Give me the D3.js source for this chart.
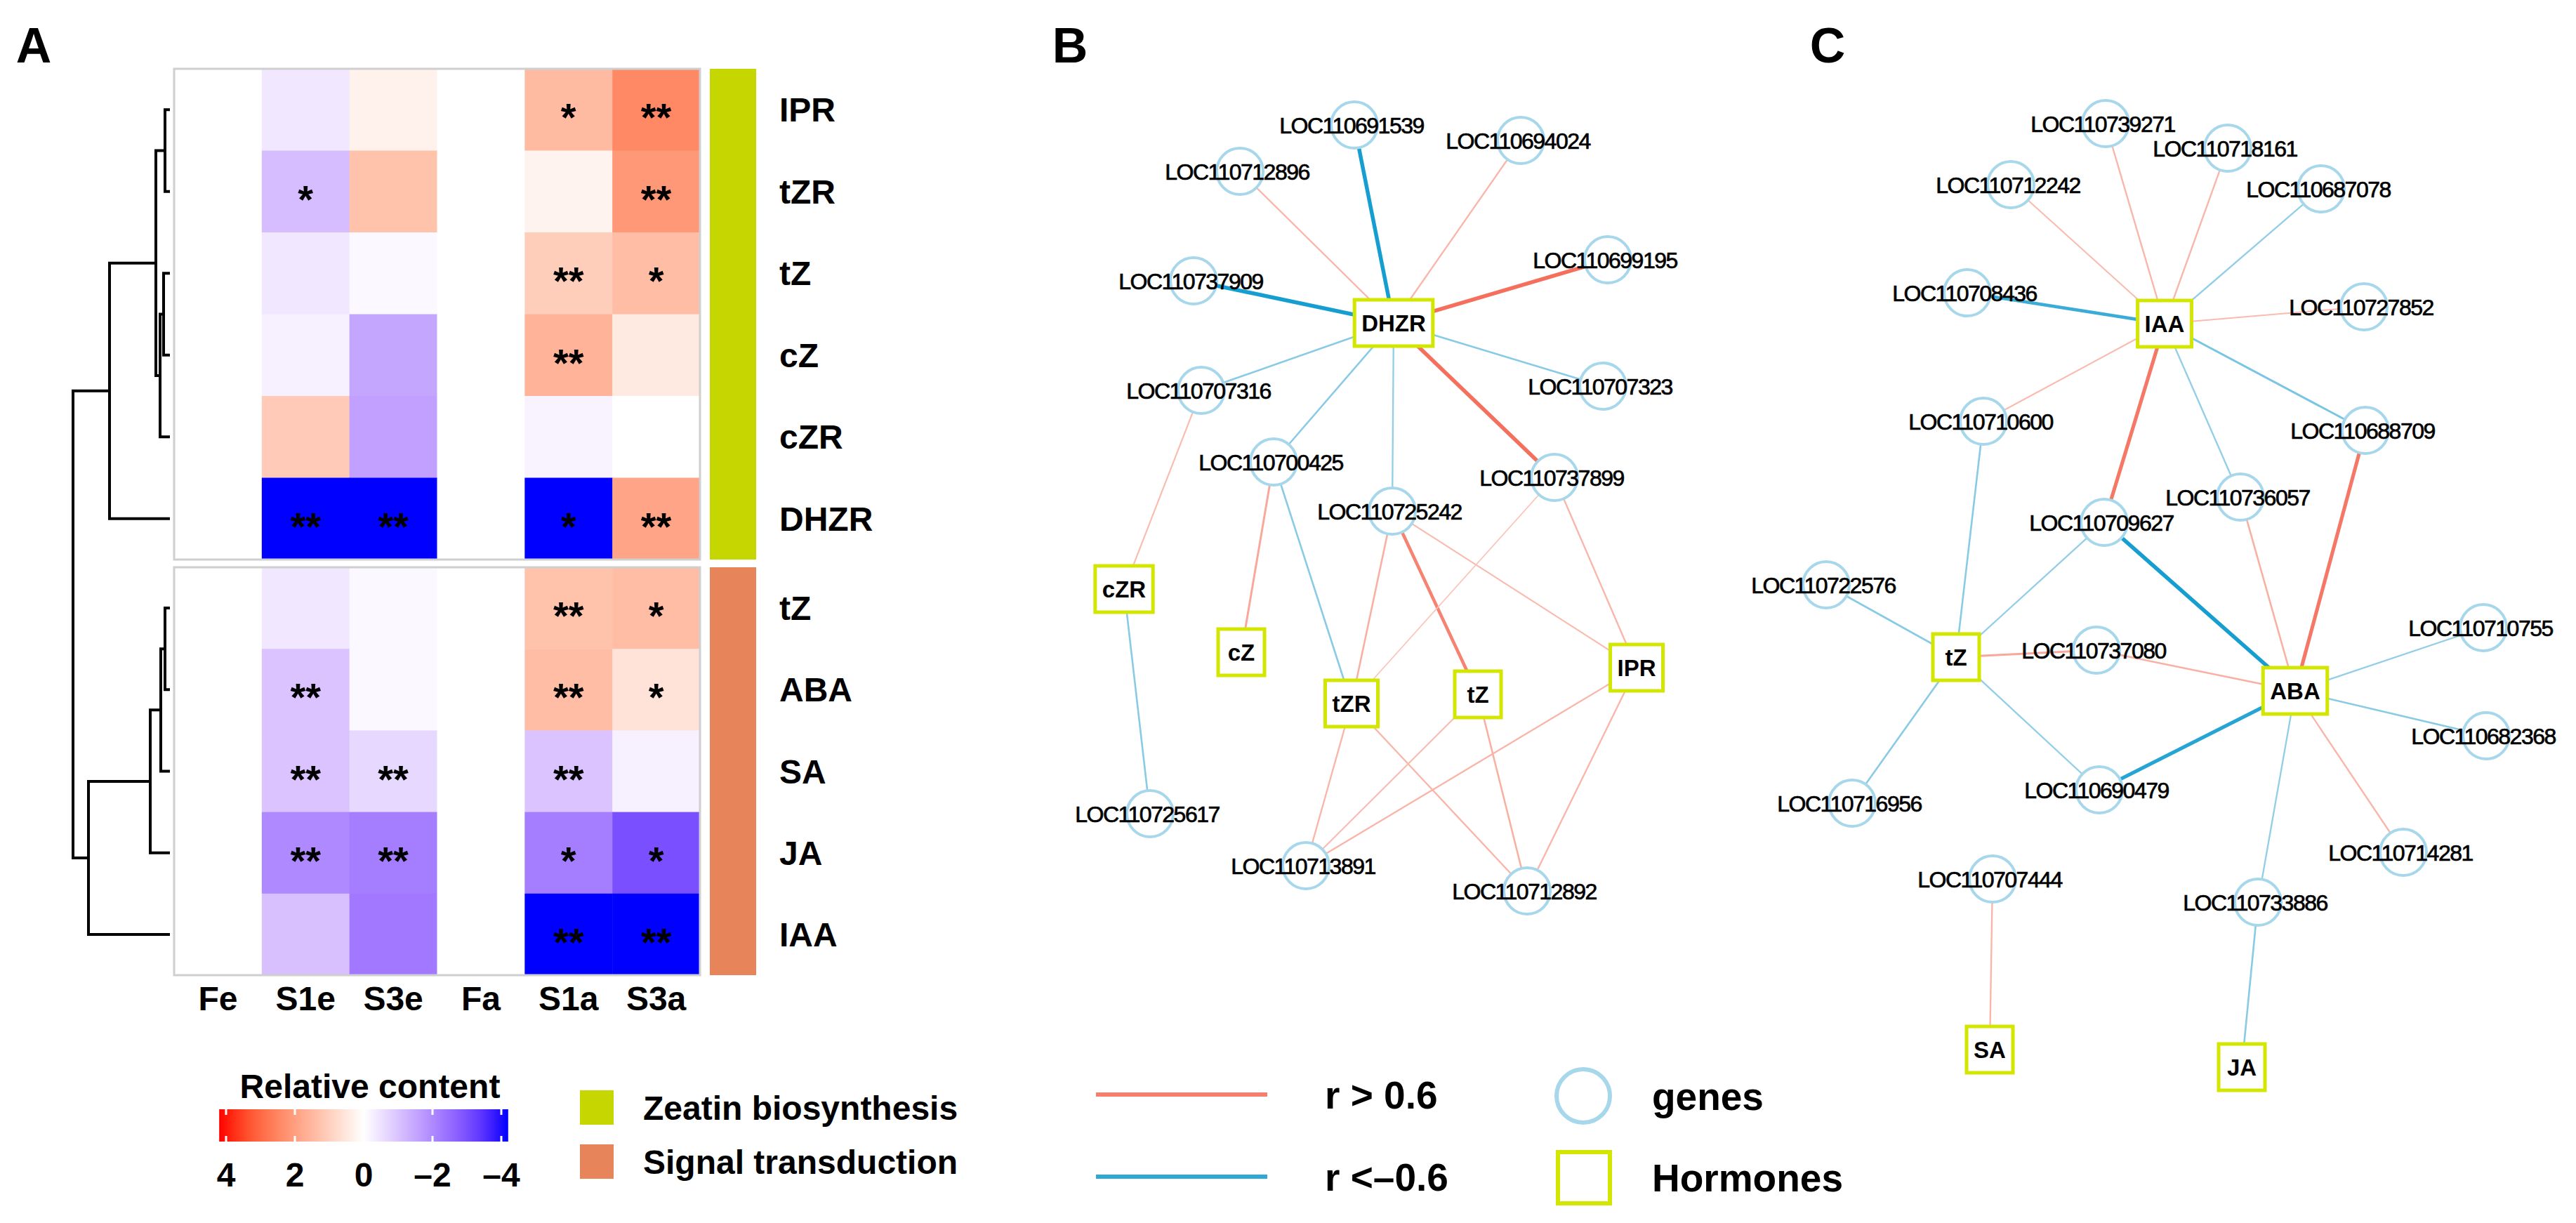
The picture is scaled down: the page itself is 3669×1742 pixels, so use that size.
<!DOCTYPE html>
<html>
<head>
<meta charset="utf-8">
<script src="https://cdn.jsdelivr.net/npm/d3@7"></script>
<style>
  body { margin: 0; background: #fff; }
  svg { display: block; font-family: "Liberation Sans", Arial, sans-serif; }
</style>
</head>
<body>
<div id="chart"></div>
<script>
const w = 3669;
const h = 1742;

// ---- panel A data ----
const cols = ['Fe', 'S1e', 'S3e', 'Fa', 'S1a', 'S3a'];
const rowsZeatin = ['IPR', 'tZR', 'tZ', 'cZ', 'cZR', 'DHZR'];
const rowsSignal = ['tZ', 'ABA', 'SA', 'JA', 'IAA'];

const valuesZeatin = [
  [0, -0.4, 0.3, 0, 1.45, 2.45],
  [0, -1.1, 1.3, 0, 0.25, 2.15],
  [0, -0.4, -0.1, 0, 1.05, 1.4],
  [0, -0.25, -1.5, 0, 1.6, 0.45],
  [0, 1.1, -1.6, 0, -0.2, 0],
  [0, -4, -4, 0, -4, 1.9]
];
const valuesSignal = [
  [0, -0.4, -0.1, 0, 1.3, 1.4],
  [0, -1.0, -0.1, 0, 1.4, 0.6],
  [0, -1.0, -0.65, 0, -1.0, -0.25],
  [0, -2.0, -2.2, 0, -2.2, -3.0],
  [0, -1.05, -2.3, 0, -4, -4]
];
const starsZeatin = [
  ['', '', '', '', '*', '**'],
  ['', '*', '', '', '', '**'],
  ['', '', '', '', '**', '*'],
  ['', '', '', '', '**', ''],
  ['', '', '', '', '', ''],
  ['', '**', '**', '', '*', '**']
];
const starsSignal = [
  ['', '', '', '', '**', '*'],
  ['', '**', '', '', '**', '*'],
  ['', '**', '**', '', '**', ''],
  ['', '**', '**', '', '*', '*'],
  ['', '', '', '', '**', '**']
];
// dendrogram merges: [left, right, height]; "mN" = result of merge N
const treeZeatin = [['IPR', 'tZR', 0.7], ['tZ', 'cZ', 0.9], ['m1', 'cZR', 1.4], ['m0', 'm2', 2.0], ['m3', 'DHZR', 8.6]];
const treeSignal = [['tZ', 'ABA', 0.7], ['m0', 'SA', 1.3], ['m1', 'JA', 2.8], ['m2', 'IAA', 11.6]];
const rootHeight = 13.8;
const colorTicks = [4, 2, 0, -2, -4];
const groups = [
  {label: 'Zeatin biosynthesis', color: '#c5d600'},
  {label: 'Signal transduction', color: '#e8845a'}
];

// ---- panel B data (layout units) ----
const nodesB = [
  ['LOC110691539', 'gene', 429, 78], ['LOC110694024', 'gene', 666, 100],
  ['LOC110712896', 'gene', 266, 144], ['LOC110699195', 'gene', 790, 270],
  ['LOC110737909', 'gene', 200, 300], ['DHZR', 'hormone', 485, 360],
  ['LOC110707316', 'gene', 211, 456], ['LOC110707323', 'gene', 783, 450],
  ['LOC110700425', 'gene', 314, 558], ['LOC110737899', 'gene', 714, 580],
  ['LOC110725242', 'gene', 483, 628], ['cZR', 'hormone', 101, 739],
  ['cZ', 'hormone', 268, 829], ['tZR', 'hormone', 425, 902],
  ['tZ', 'hormone', 605, 889], ['IPR', 'hormone', 831, 851],
  ['LOC110725617', 'gene', 138, 1059], ['LOC110713891', 'gene', 360, 1133],
  ['LOC110712892', 'gene', 675, 1169]
];
const edgesB = [
  ['DHZR', 'LOC110691539', -0.95], ['DHZR', 'LOC110694024', 0.7], ['DHZR', 'LOC110712896', 0.7],
  ['DHZR', 'LOC110699195', 0.95], ['DHZR', 'LOC110737909', -0.95], ['DHZR', 'LOC110707316', -0.72],
  ['DHZR', 'LOC110707323', -0.72], ['DHZR', 'LOC110700425', -0.72], ['DHZR', 'LOC110725242', -0.7],
  ['DHZR', 'LOC110737899', 0.95], ['LOC110707316', 'cZR', 0.68], ['cZR', 'LOC110725617', -0.72],
  ['LOC110700425', 'cZ', 0.75], ['LOC110700425', 'tZR', -0.72], ['LOC110725242', 'tZR', 0.72],
  ['LOC110725242', 'tZ', 0.88], ['LOC110725242', 'IPR', 0.68], ['LOC110737899', 'tZR', 0.65],
  ['LOC110737899', 'IPR', 0.7], ['tZR', 'LOC110713891', 0.7], ['tZR', 'LOC110712892', 0.7],
  ['tZ', 'LOC110713891', 0.68], ['tZ', 'LOC110712892', 0.72], ['IPR', 'LOC110713891', 0.7],
  ['IPR', 'LOC110712892', 0.7]
];

// ---- panel C data (layout units) ----
const nodesC = [
  ['LOC110739271', 'gene', 499, 76], ['LOC110718161', 'gene', 673, 111],
  ['LOC110712242', 'gene', 364, 163], ['LOC110687078', 'gene', 806, 169],
  ['LOC110708436', 'gene', 302, 317], ['IAA', 'hormone', 583, 361],
  ['LOC110727852', 'gene', 867, 337], ['LOC110710600', 'gene', 325, 500],
  ['LOC110688709', 'gene', 869, 513], ['LOC110736057', 'gene', 691, 608],
  ['LOC110709627', 'gene', 497, 644], ['LOC110722576', 'gene', 101, 733],
  ['tZ', 'hormone', 286, 836], ['LOC110737080', 'gene', 486, 826],
  ['ABA', 'hormone', 769, 884], ['LOC110710755', 'gene', 1037, 794],
  ['LOC110682368', 'gene', 1041, 948], ['LOC110716956', 'gene', 138, 1044],
  ['LOC110690479', 'gene', 490, 1025], ['LOC110714281', 'gene', 923, 1114],
  ['LOC110707444', 'gene', 338, 1152], ['LOC110733886', 'gene', 716, 1185],
  ['SA', 'hormone', 334, 1395], ['JA', 'hormone', 693, 1420]
];
const edgesC = [
  ['IAA', 'LOC110739271', 0.7], ['IAA', 'LOC110718161', 0.7], ['IAA', 'LOC110712242', 0.68],
  ['IAA', 'LOC110687078', -0.7], ['IAA', 'LOC110708436', -0.88], ['IAA', 'LOC110727852', 0.68],
  ['IAA', 'LOC110710600', 0.68], ['IAA', 'LOC110688709', -0.75], ['IAA', 'LOC110736057', -0.7],
  ['IAA', 'LOC110709627', 0.92], ['LOC110710600', 'tZ', -0.72], ['LOC110709627', 'tZ', -0.7],
  ['LOC110709627', 'ABA', -0.95], ['LOC110736057', 'ABA', 0.72], ['LOC110688709', 'ABA', 0.92],
  ['LOC110722576', 'tZ', -0.72], ['tZ', 'LOC110737080', 0.75], ['LOC110737080', 'ABA', 0.72],
  ['tZ', 'LOC110716956', -0.72], ['tZ', 'LOC110690479', -0.7], ['LOC110690479', 'ABA', -0.92],
  ['ABA', 'LOC110710755', -0.7], ['ABA', 'LOC110682368', -0.72], ['ABA', 'LOC110714281', 0.7],
  ['ABA', 'LOC110733886', -0.7], ['LOC110733886', 'JA', -0.72], ['LOC110707444', 'SA', 0.7]
];
const edgeLegend = [
  {label: 'r > 0.6', r: 0.9},
  {label: 'r <\u20130.6', r: -0.9}
];

const svg = d3.select('#chart')
  .append('svg')
  .attr('width', w)
  .attr('height', h)
  .style('background-color', 'white');

// panel letters
svg.selectAll('.panel-letter')
  .data([['A', 48], ['B', 1524], ['C', 2603]])
  .enter()
  .append('text')
  .attr('x', d => d[1])
  .attr('y', 89)
  .attr('text-anchor', 'middle')
  .attr('font-size', 70)
  .attr('font-weight', 'bold')
  .text(d => d[0]);

// ================= Panel A =================
const color = d3.scaleLinear()
  .domain([4, 0, -4])
  .range(['#ff0000', '#ffffff', '#0000ff'])
  .interpolate(d3.interpolateLab)
  .clamp(true);

const xCol = d3.scaleBand().domain(cols).range([248, 997]);
const yTop = d3.scaleBand().domain(rowsZeatin).range([98, 797]);
const yBot = d3.scaleBand().domain(rowsSignal).range([808, 1389]);
const xTree = d3.scaleLinear().domain([0, rootHeight]).range([242, 104]);

const gA = svg.append('g');

function drawBlock(rows, values, stars, yScale, barColor) {
  const cells = [];
  rows.forEach((r, i) => cols.forEach((c, j) => cells.push({r, c, v: values[i][j], s: stars[i][j]})));
  const g = gA.append('g');
  g.selectAll('rect.cell')
    .data(cells)
    .enter()
    .append('rect')
    .attr('x', d => xCol(d.c))
    .attr('y', d => yScale(d.r))
    .attr('width', xCol.bandwidth() + 0.5)
    .attr('height', yScale.bandwidth() + 0.5)
    .attr('fill', d => color(d.v));
  g.selectAll('text.star')
    .data(cells.filter(d => d.s))
    .enter()
    .append('text')
    .attr('x', d => xCol(d.c) + xCol.bandwidth() / 2)
    .attr('y', d => yScale(d.r) + yScale.bandwidth() / 2 + 30)
    .attr('text-anchor', 'middle')
    .attr('font-size', 56)
    .attr('font-weight', 'bold')
    .text(d => d.s);
  const [y0, y1] = yScale.range();
  g.append('rect')
    .attr('x', 248).attr('y', y0)
    .attr('width', 997 - 248).attr('height', y1 - y0)
    .attr('fill', 'none')
    .attr('stroke', '#cfcfcf')
    .attr('stroke-width', 3);
  g.append('rect')
    .attr('x', 1011).attr('y', y0)
    .attr('width', 66).attr('height', y1 - y0)
    .attr('fill', barColor);
  g.selectAll('text.row')
    .data(rows)
    .enter()
    .append('text')
    .attr('x', 1110)
    .attr('y', d => yScale(d) + yScale.bandwidth() / 2 + 17)
    .attr('font-size', 48)
    .attr('font-weight', 'bold')
    .text(d => d);
}

drawBlock(rowsZeatin, valuesZeatin, starsZeatin, yTop, groups[0].color);
drawBlock(rowsSignal, valuesSignal, starsSignal, yBot, groups[1].color);

// column labels
gA.selectAll('text.col')
  .data(cols)
  .enter()
  .append('text')
  .attr('x', d => xCol(d) + xCol.bandwidth() / 2)
  .attr('y', 1439)
  .attr('text-anchor', 'middle')
  .attr('font-size', 48)
  .attr('font-weight', 'bold')
  .text(d => d);

// dendrogram
function drawTree(tree, rows, yScale) {
  const pos = {};
  rows.forEach(r => pos[r] = {y: yScale(r) + yScale.bandwidth() / 2, h: 0});
  tree.forEach(([a, b, ht], i) => {
    const A = pos[a], B = pos[b], x = xTree(ht);
    gA.append('path')
      .attr('d', `M${xTree(A.h)},${A.y}H${x}V${B.y}H${xTree(B.h)}`)
      .attr('fill', 'none')
      .attr('stroke', 'black')
      .attr('stroke-width', 4);
    pos['m' + i] = {y: (A.y + B.y) / 2, h: ht};
  });
  return pos['m' + (tree.length - 1)];
}
const topRoot = drawTree(treeZeatin, rowsZeatin, yTop);
const botRoot = drawTree(treeSignal, rowsSignal, yBot);
gA.append('path')
  .attr('d', `M${xTree(topRoot.h)},${topRoot.y}H${xTree(rootHeight)}V${botRoot.y}H${xTree(botRoot.h)}`)
  .attr('fill', 'none')
  .attr('stroke', 'black')
  .attr('stroke-width', 4);

// colour bar legend
const cbX = d3.scaleLinear().domain([4, -4]).range([322, 714]);
const grad = svg.append('defs').append('linearGradient').attr('id', 'cb');
d3.range(0, 1.0001, 0.05).forEach(t => {
  grad.append('stop')
    .attr('offset', t)
    .attr('stop-color', color(4.2 - t * 8.4));
});
gA.append('rect')
  .attr('x', cbX(4.2)).attr('y', 1580)
  .attr('width', cbX(-4.2) - cbX(4.2)).attr('height', 46)
  .attr('fill', 'url(#cb)');
colorTicks.forEach(t => {
  [[1580, 1588], [1618, 1626]].forEach(([a, b]) => {
    gA.append('line')
      .attr('x1', cbX(t)).attr('x2', cbX(t))
      .attr('y1', a).attr('y2', b)
      .attr('stroke', 'white').attr('stroke-width', 3);
  });
});
gA.selectAll('text.cbt')
  .data(colorTicks)
  .enter()
  .append('text')
  .attr('x', d => cbX(d))
  .attr('y', 1690)
  .attr('text-anchor', 'middle')
  .attr('font-size', 48)
  .attr('font-weight', 'bold')
  .text(d => d < 0 ? '\u2013' + Math.abs(d) : d);
gA.append('text')
  .attr('x', 527).attr('y', 1564)
  .attr('text-anchor', 'middle')
  .attr('font-size', 48)
  .attr('font-weight', 'bold')
  .text('Relative content');

// group legend
const grpLeg = gA.selectAll('g.grp')
  .data(groups)
  .enter()
  .append('g')
  .attr('transform', (d, i) => `translate(826, ${1553 + i * 77})`);
grpLeg.append('rect').attr('width', 48).attr('height', 49).attr('fill', d => d.color);
grpLeg.append('text')
  .attr('x', 90).attr('y', 42)
  .attr('font-size', 48)
  .attr('font-weight', 'bold')
  .text(d => d.label);

// ================= Networks =================
const edgeWidth = d3.scaleLinear().domain([0.65, 0.95]).range([1.7, 5.5]).clamp(true);
const posColor = d3.scaleLinear().domain([0.65, 0.95]).range(['#fbc3b8', '#f4705d']).clamp(true);
const negColor = d3.scaleLinear().domain([0.65, 0.95]).range(['#acd8ec', '#179ed0']).clamp(true);
const edgeColor = r => r > 0 ? posColor(r) : negColor(-r);

function drawNetwork(nodes, edges, xs, ys) {
  const g = svg.append('g');
  const byId = {};
  nodes.forEach(n => byId[n[0]] = {x: xs(n[2]), y: ys(n[3])});
  g.selectAll('line')
    .data(edges)
    .enter()
    .append('line')
    .attr('x1', d => byId[d[0]].x).attr('y1', d => byId[d[0]].y)
    .attr('x2', d => byId[d[1]].x).attr('y2', d => byId[d[1]].y)
    .attr('stroke', d => edgeColor(d[2]))
    .attr('stroke-width', d => edgeWidth(Math.abs(d[2])));
  const genes = nodes.filter(n => n[1] === 'gene');
  g.selectAll('circle')
    .data(genes)
    .enter()
    .append('circle')
    .attr('cx', d => byId[d[0]].x)
    .attr('cy', d => byId[d[0]].y)
    .attr('r', 33)
    .attr('fill', 'white')
    .attr('stroke', '#a7d7eb')
    .attr('stroke-width', 4);
  g.selectAll('text.gene')
    .data(genes)
    .enter()
    .append('text')
    .attr('x', d => byId[d[0]].x - 4)
    .attr('y', d => byId[d[0]].y + 12)
    .attr('text-anchor', 'middle')
    .attr('font-size', 32)
    .attr('letter-spacing', -1.5)
    .attr('fill', '#000')
    .attr('stroke', '#000')
    .attr('stroke-width', 0.7)
    .text(d => d[0]);
  const hormones = nodes.filter(n => n[1] === 'hormone');
  const hg = g.selectAll('g.hormone')
    .data(hormones)
    .enter()
    .append('g')
    .attr('transform', d => `translate(${byId[d[0]].x}, ${byId[d[0]].y})`);
  hg.append('text')
    .attr('y', 12)
    .attr('text-anchor', 'middle')
    .attr('font-size', 33)
    .attr('font-weight', 'bold')
    .text(d => d[0]);
  hg.each(function () {
    const t = d3.select(this).select('text');
    const bw = Math.max(66, t.node().getComputedTextLength() + 20);
    d3.select(this).insert('rect', 'text')
      .attr('x', -bw / 2).attr('y', -33)
      .attr('width', bw).attr('height', 66)
      .attr('fill', 'white')
      .attr('stroke', '#d3e600')
      .attr('stroke-width', 5);
  });
}

const layoutX = x0 => d3.scaleLinear().domain([0, 1000]).range([x0, x0 + 1000]);
const layoutY = d3.scaleLinear().domain([0, 1000]).range([100, 1100]);
drawNetwork(nodesB, edgesB, layoutX(1500), layoutY);
drawNetwork(nodesC, edgesC, layoutX(2500), layoutY);

// network legend
const legB = svg.append('g');
const el = legB.selectAll('g.el')
  .data(edgeLegend)
  .enter()
  .append('g')
  .attr('transform', (d, i) => `translate(1561, ${1559 + i * 117})`);
el.append('line')
  .attr('x1', 0).attr('x2', 244)
  .attr('stroke', d => edgeColor(d.r))
  .attr('stroke-width', 6);
el.append('text')
  .attr('x', 326).attr('y', 20)
  .attr('font-size', 55)
  .attr('font-weight', 'bold')
  .text(d => d.label);

legB.append('circle')
  .attr('cx', 2255).attr('cy', 1561).attr('r', 38)
  .attr('fill', 'white')
  .attr('stroke', '#a7d7eb')
  .attr('stroke-width', 6);
legB.append('rect')
  .attr('x', 2219).attr('y', 1641)
  .attr('width', 74).attr('height', 73)
  .attr('fill', 'white')
  .attr('stroke', '#d3e600')
  .attr('stroke-width', 6);
legB.selectAll('text.nl')
  .data([['genes', 1561], ['Hormones', 1677]])
  .enter()
  .append('text')
  .attr('x', 2353)
  .attr('y', d => d[1] + 20)
  .attr('font-size', 55)
  .attr('font-weight', 'bold')
  .text(d => d[0]);
</script>
</body>
</html>
